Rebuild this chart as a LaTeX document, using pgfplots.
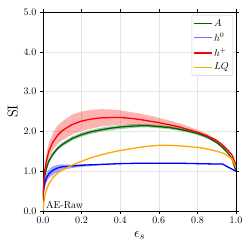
\documentclass[border=0pt]{standalone}
\usepackage{pgfplots}
\pgfplotsset{compat=1.18}
\colorlet{dgreen}{green!39!black}
\colorlet{lqorange}{orange!70!yellow}
\begin{document}
\begin{tikzpicture}
\begin{axis}[
  name=ax,
  scale only axis, width=193pt, height=199pt,
  xmin=0, xmax=1, ymin=0, ymax=5,
  xtick={0,0.2,...,1.0}, ytick={0,1,...,5},
  xticklabel style={/pgf/number format/.cd,fixed,fixed zerofill,precision=1},
  yticklabel style={/pgf/number format/.cd,fixed,fixed zerofill,precision=1},
  grid=major, grid style={gray!20, line width=0.5pt},
  tick align=outside, tick style={black}, major tick length=3pt,
  xlabel={\Large$\epsilon_s$}, ylabel={\Large SI},
  ylabel style={yshift=-1pt},
  legend style={at={(0.985,0.985)}, anchor=north east, font=\normalsize, draw=gray!40, rounded corners=2pt, row sep=1.5pt, inner sep=2pt},
  legend cell align=left,
]
% bands
\addplot[fill=red, fill opacity=0.3, draw=none, forget plot] coordinates {
(0,0.3)(0.01,1.2)(0.02,1.5)(0.03,1.7)(0.05,1.95)(0.075,2.15)(0.1,2.25)(0.15,2.42)(0.2,2.5)(0.25,2.54)(0.3,2.56)(0.35,2.55)(0.4,2.53)(0.45,2.49)(0.5,2.45)(0.55,2.4)(0.6,2.34)(0.65,2.28)(0.7,2.21)(0.75,2.13)(0.8,2.04)(0.85,1.94)(0.9,1.8)(0.93,1.68)(0.96,1.54)(0.98,1.42)(1.0,1.2)
(1.0,1.1)(0.98,1.38)(0.96,1.5)(0.93,1.63)(0.9,1.74)(0.85,1.86)(0.8,1.95)(0.75,2.0)(0.7,2.05)(0.65,2.09)(0.6,2.12)(0.55,2.14)(0.5,2.16)(0.45,2.17)(0.4,2.17)(0.35,2.15)(0.3,2.12)(0.25,2.07)(0.2,2.01)(0.15,1.92)(0.1,1.78)(0.075,1.68)(0.05,1.52)(0.03,1.32)(0.02,1.15)(0.01,0.95)(0,0.3)
} -- cycle;
\addplot[fill=dgreen, fill opacity=0.35, draw=none, forget plot] coordinates {
(0,0.3)(0.005,0.75)(0.01,0.95)(0.02,1.15)(0.03,1.3)(0.05,1.47)(0.075,1.62)(0.1,1.72)(0.15,1.87)(0.2,1.97)(0.25,2.04)(0.3,2.09)(0.35,2.13)(0.4,2.16)(0.45,2.18)(0.5,2.18)(0.55,2.18)(0.6,2.16)(0.65,2.14)(0.7,2.1)(0.75,2.05)(0.8,1.99)(0.85,1.9)(0.9,1.75)(0.93,1.63)(0.96,1.48)(0.98,1.32)(1.0,1.02)
(1.0,0.98)(0.98,1.28)(0.96,1.42)(0.93,1.57)(0.9,1.69)(0.85,1.82)(0.8,1.91)(0.75,1.97)(0.7,2.02)(0.65,2.06)(0.6,2.08)(0.55,2.1)(0.5,2.1)(0.45,2.08)(0.4,2.06)(0.35,2.03)(0.3,1.99)(0.25,1.94)(0.2,1.87)(0.15,1.77)(0.1,1.62)(0.075,1.52)(0.05,1.37)(0.03,1.2)(0.02,1.05)(0.01,0.85)(0.005,0.65)(0,0.3)
} -- cycle;
\addplot[fill=blue, fill opacity=0.35, draw=none, forget plot] coordinates {
(0,0.4)(0.005,0.68)(0.01,0.82)(0.02,0.96)(0.03,1.04)(0.05,1.12)(0.075,1.16)(0.1,1.17)(0.15,1.16)(0.2,1.17)(0.3,1.18)(0.4,1.2)(0.5,1.21)(0.6,1.21)(0.7,1.21)(0.8,1.2)(0.9,1.19)(0.93,1.19)(0.96,1.11)(1.0,1.01)
(1.0,0.99)(0.96,1.09)(0.93,1.17)(0.9,1.17)(0.8,1.18)(0.7,1.19)(0.6,1.19)(0.5,1.19)(0.4,1.18)(0.3,1.15)(0.2,1.11)(0.15,1.08)(0.1,1.03)(0.075,0.98)(0.05,0.9)(0.03,0.82)(0.02,0.74)(0.01,0.62)(0.005,0.52)(0,0.4)
} -- cycle;
% lines
\addplot[draw=dgreen, line width=1.3pt] coordinates {
(0,0.3)(0.005,0.7)(0.01,0.9)(0.02,1.1)(0.03,1.25)(0.05,1.42)(0.075,1.57)(0.1,1.67)(0.15,1.82)(0.2,1.92)(0.25,1.99)(0.3,2.04)(0.35,2.08)(0.4,2.11)(0.45,2.13)(0.5,2.14)(0.55,2.14)(0.6,2.12)(0.65,2.1)(0.7,2.06)(0.75,2.01)(0.8,1.95)(0.85,1.86)(0.9,1.72)(0.93,1.6)(0.96,1.45)(0.98,1.3)(1.0,1.0)};
\addlegendentry{$A$}
\addplot[draw=blue, line width=1.3pt, legend image post style={draw=blue!55}] coordinates {
(0,0.4)(0.005,0.6)(0.01,0.72)(0.02,0.85)(0.03,0.93)(0.05,1.02)(0.075,1.08)(0.1,1.11)(0.15,1.13)(0.2,1.15)(0.3,1.17)(0.4,1.19)(0.5,1.2)(0.6,1.2)(0.7,1.2)(0.8,1.19)(0.9,1.18)(0.93,1.18)(0.96,1.1)(1.0,1.0)};
\addlegendentry{$h^0$}
\addplot[draw=red, line width=1.3pt] coordinates {
(0,0.3)(0.005,0.8)(0.01,1.05)(0.02,1.3)(0.03,1.5)(0.05,1.72)(0.075,1.9)(0.1,2.02)(0.15,2.17)(0.2,2.26)(0.25,2.31)(0.3,2.34)(0.35,2.35)(0.4,2.35)(0.45,2.33)(0.5,2.3)(0.55,2.26)(0.6,2.22)(0.65,2.17)(0.7,2.12)(0.75,2.05)(0.8,1.98)(0.85,1.89)(0.9,1.77)(0.93,1.66)(0.96,1.52)(0.98,1.4)(1.0,1.15)};
\addlegendentry{$h^+$}
\addplot[draw=lqorange, line width=1.3pt] coordinates {
(0,0.0)(0.005,0.25)(0.01,0.4)(0.02,0.56)(0.03,0.68)(0.05,0.83)(0.075,0.95)(0.1,1.03)(0.15,1.15)(0.2,1.25)(0.25,1.34)(0.3,1.41)(0.35,1.47)(0.4,1.52)(0.45,1.56)(0.5,1.6)(0.55,1.63)(0.6,1.65)(0.65,1.65)(0.7,1.64)(0.75,1.62)(0.8,1.6)(0.85,1.56)(0.9,1.5)(0.93,1.46)(0.96,1.38)(0.98,1.3)(1.0,1.1)};
\addlegendentry{$LQ$}
\node[anchor=south west, font=\normalsize, inner sep=1pt] at (axis cs:0.01,0.03) {AE-Raw};
\end{axis}
\pgfresetboundingbox
\path ([shift={(-43pt,-39pt)}]ax.south west) rectangle ([shift={(14pt,12pt)}]ax.north east);
\end{tikzpicture}
\end{document}
